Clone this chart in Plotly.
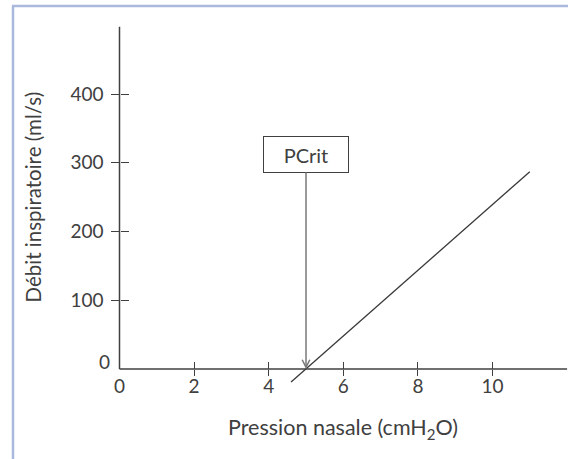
import plotly.graph_objects as go

# ---- data ----
x_tick_vals = [0, 2, 4, 6, 8, 10]
x_tick_marks = [2, 4, 6, 8, 10]
y_tick_vals = [100, 200, 300, 400]
y_tick_marks = [100, 200, 300, 400]
y_zero_label = "0"
line_x = [4.6, 11.0]
line_y = [-19, 287]
pcrit_x = 5.0
pcrit_label = "PCrit"
x_axis_end = 12.0
y_axis_end = 498

x_title = "Pression nasale (cmH<sub>2</sub>O)"
y_title = "Débit inspiratoire (ml/s)"

# ---- layout geometry ----
W, H = 568, 459
X0_PX, Y0_PX = 119.5, 369
PX_PER_X = 37.3
PX_PER_Y = 0.6875
xr = [-X0_PX / PX_PER_X, (W - X0_PX) / PX_PER_X]
yr = [-(H - Y0_PX) / PX_PER_Y, Y0_PX / PX_PER_Y]
x_pos = (H - Y0_PX) / H
y_pos = X0_PX / W

AX = "#404040"
FONT = "Lato"
TICK_SIZE = 19

fig = go.Figure()
fig.add_trace(go.Scatter(x=line_x, y=line_y, mode="lines",
                         line=dict(color="#383838", width=1.3),
                         showlegend=False, hoverinfo="skip"))
# empty traces so the overlay axes get drawn
for xa, ya in [("x2", "y2"), ("x3", "y3"), ("x4", "y4")]:
    fig.add_trace(go.Scatter(x=[None], y=[None], xaxis=xa, yaxis=ya,
                             showlegend=False, hoverinfo="skip"))

hidden = dict(visible=False, showgrid=False, zeroline=False)
plain = dict(showline=False, showgrid=False, zeroline=False)
fig.update_layout(
    width=W, height=H, autosize=False,
    margin=dict(l=0, r=0, t=0, b=0),
    paper_bgcolor="white", plot_bgcolor="rgba(0,0,0,0)",
    font=dict(family=FONT, size=16, color=AX),
    xaxis=dict(range=xr, domain=[0, 1], **hidden),
    yaxis=dict(range=yr, domain=[0, 1], **hidden),
    # labels
    xaxis2=dict(range=xr, overlaying="x", anchor="free", position=x_pos,
                tickmode="array", tickvals=x_tick_vals, ticks="",
                ticklabelstandoff=4,
                tickfont=dict(family=FONT, size=TICK_SIZE, color=AX), **plain),
    yaxis2=dict(range=yr, overlaying="y", anchor="free", position=y_pos,
                tickmode="array", tickvals=y_tick_vals, ticks="",
                ticklabelstandoff=16,
                tickfont=dict(family=FONT, size=TICK_SIZE, color=AX), **plain),
    # outside tick marks
    xaxis3=dict(range=xr, overlaying="x", anchor="free", position=x_pos,
                tickmode="array", tickvals=x_tick_marks, ticks="outside",
                ticklen=6, tickwidth=1.3, tickcolor=AX, showticklabels=False,
                **plain),
    yaxis3=dict(range=yr, overlaying="y", anchor="free", position=y_pos,
                tickmode="array", tickvals=y_tick_marks, ticks="outside",
                ticklen=9, tickwidth=1.3, tickcolor=AX, showticklabels=False,
                **plain),
    # inside tick marks
    xaxis4=dict(range=xr, overlaying="x", anchor="free", position=x_pos,
                tickmode="array", tickvals=x_tick_marks, ticks="inside",
                ticklen=7, tickwidth=1.3, tickcolor=AX, showticklabels=False,
                **plain),
    yaxis4=dict(range=yr, overlaying="y", anchor="free", position=y_pos,
                tickmode="array", tickvals=y_tick_marks, ticks="inside",
                ticklen=8, tickwidth=1.3, tickcolor=AX, showticklabels=False,
                **plain),
)

# axis lines
fig.add_shape(type="line", xref="x", yref="y", x0=0, y0=0, x1=0, y1=y_axis_end,
              line=dict(color=AX, width=1.5))
fig.add_shape(type="line", xref="x", yref="y", x0=0, y0=0, x1=x_axis_end, y1=0,
              line=dict(color=AX, width=1.5))

# frame border (left and top edges)
fig.add_shape(type="line", xref="paper", yref="paper",
              x0=13 / W, y0=0, x1=13 / W, y1=(H - 6) / H,
              line=dict(color="#a9b8dc", width=2.5))
fig.add_shape(type="line", xref="paper", yref="paper",
              x0=12 / W, y0=(H - 6) / H, x1=1, y1=(H - 6) / H,
              line=dict(color="#a9b8dc", width=2.5))

# y-axis "0" label (sits slightly above the x-axis)
fig.add_annotation(x=112 / W, y=(H - 362) / H, xref="paper", yref="paper",
                   xanchor="right", yanchor="middle", text=y_zero_label,
                   showarrow=False,
                   font=dict(family=FONT, size=TICK_SIZE, color=AX))

# PCrit box with arrow
fig.add_annotation(x=pcrit_x, y=0, xref="x", yref="y", text=pcrit_label,
                   showarrow=True, ax=0, ay=-(Y0_PX - 154.5),
                   arrowhead=5, arrowsize=1, arrowwidth=1.5,
                   arrowcolor="#7a7a7a", standoff=0,
                   width=76, height=27, borderpad=4,
                   bordercolor=AX, borderwidth=1, bgcolor="white",
                   font=dict(family=FONT, size=20, color=AX))

# axis titles
fig.add_annotation(x=343 / W, y=(H - 428) / H, xref="paper", yref="paper",
                   xanchor="center", yanchor="middle",
                   text=x_title, showarrow=False,
                   font=dict(family=FONT, size=21.5, color=AX))
fig.add_annotation(x=33 / W, y=(H - 197.5) / H, xref="paper", yref="paper",
                   xanchor="center", yanchor="middle",
                   text=y_title, showarrow=False, textangle=-90,
                   font=dict(family=FONT, size=20.5, color=AX))

fig.write_html("out.html", config={"displayModeBar": False},
               post_script="document.body.style.margin='0';")
